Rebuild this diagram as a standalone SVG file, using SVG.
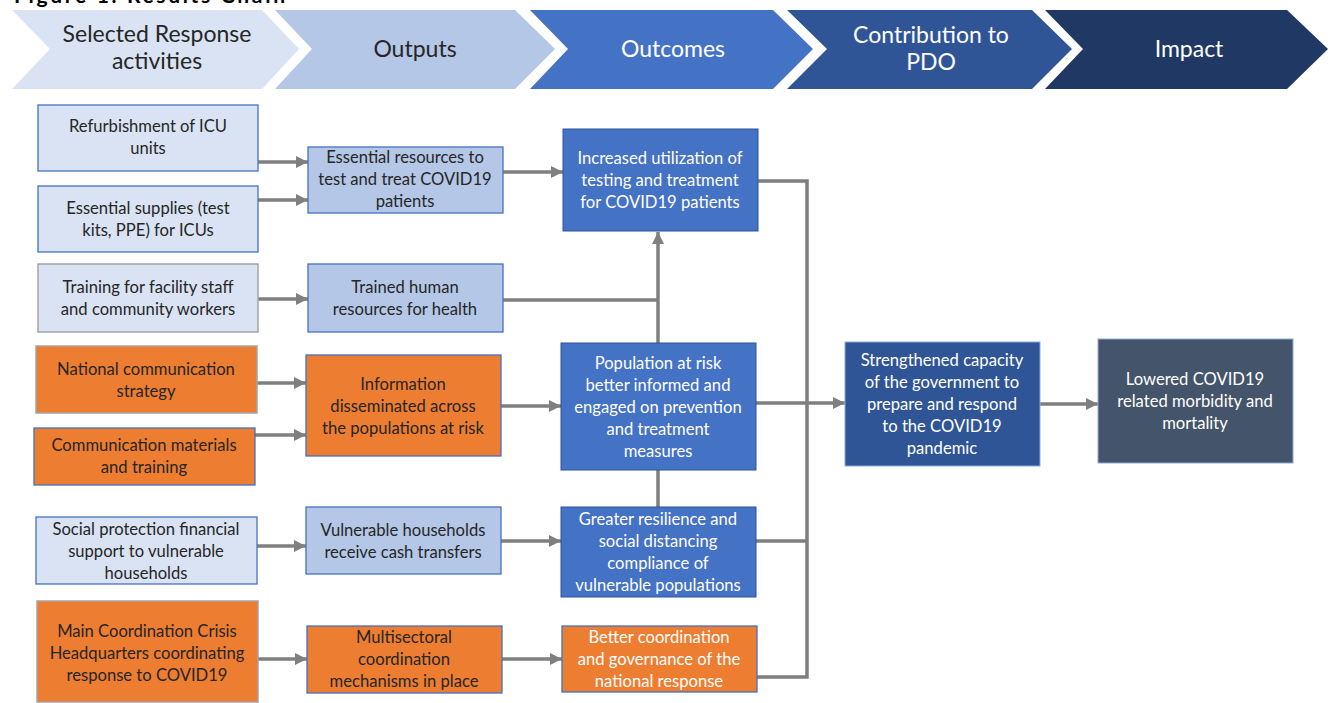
<svg xmlns="http://www.w3.org/2000/svg" width="1334" height="703" viewBox="0 0 1334 703">
<style>
.t{font-family:Lato,"Open Sans","Liberation Sans",sans-serif;font-size:16.6px;text-anchor:middle;fill:#262626}
.h{font-family:Lato,"Open Sans","Liberation Sans",sans-serif;font-size:23px;text-anchor:middle;fill:#262626}
.w{fill:#ffffff}
.c{fill:none;stroke:#7f7f7f;stroke-width:3.5}
.lb{fill:#dae3f3;stroke:#4472c4;stroke-width:1.3}
.lg{fill:#dae3f3;stroke:#a5a5a5;stroke-width:1.5}
.mb{fill:#b4c7e7;stroke:#4472c4;stroke-width:1.3}
.ob{fill:#ed7d31;stroke:#4472c4;stroke-width:1.3}
.og{fill:#ed7d31;stroke:#a5a5a5;stroke-width:1.5}
.db{fill:#4472c4;stroke:#2f5597;stroke-width:1}
</style>
<defs>
<marker id="ah" markerUnits="userSpaceOnUse" markerWidth="13" markerHeight="12" refX="12" refY="6" orient="auto">
<path d="M0,0 L12,6 L0,12 Z" fill="#7f7f7f"/>
</marker>
</defs>
<rect width="1334" height="703" fill="#ffffff"/>
<text x="14" y="3" font-family="Lato,'Liberation Sans',sans-serif" font-weight="bold" font-size="21" fill="#000" textLength="271">Figure 1. Results Chain</text>

<g id="header">
<polygon points="12,10 262,10 299,49 262,89 12,89 50,49" fill="#dae3f3"/>
<polygon points="275,10 515,10 555,49 515,89 275,89 312,49" fill="#b4c7e7"/>
<polygon points="530,10 773,10 813,49 773,89 530,89 568,49" fill="#4472c4"/>
<polygon points="787,10 1032,10 1072,49 1032,89 787,89 827,49" fill="#2f5597"/>
<polygon points="1045,10 1287,10 1328,49 1287,89 1045,89 1083,49" fill="#203864"/>
<text class="h" x="157" y="42">Selected Response</text>
<text class="h" x="157" y="69">activities</text>
<text class="h" x="415" y="57">Outputs</text>
<text class="h w" x="673" y="57">Outcomes</text>
<text class="h w" x="931" y="43">Contribution to</text>
<text class="h w" x="931" y="70">PDO</text>
<text class="h w" x="1189" y="57">Impact</text>
</g>

<g id="connectors">
<line class="c" x1="258" y1="162" x2="308" y2="162" marker-end="url(#ah)"/>
<line class="c" x1="258" y1="200" x2="308" y2="200" marker-end="url(#ah)"/>
<line class="c" x1="258" y1="299" x2="308" y2="299" marker-end="url(#ah)"/>
<line class="c" x1="257" y1="383" x2="306" y2="383" marker-end="url(#ah)"/>
<line class="c" x1="255" y1="435" x2="306" y2="435" marker-end="url(#ah)"/>
<line class="c" x1="257" y1="546" x2="306" y2="546" marker-end="url(#ah)"/>
<line class="c" x1="258" y1="659" x2="307" y2="659" marker-end="url(#ah)"/>
<line class="c" x1="503" y1="172" x2="563" y2="172" marker-end="url(#ah)"/>
<polyline class="c" points="503,300 658,300"/>
<line class="c" x1="658" y1="343" x2="658" y2="232" marker-end="url(#ah)"/>
<line class="c" x1="658" y1="470" x2="658" y2="507"/>
<line class="c" x1="501" y1="406" x2="561" y2="406" marker-end="url(#ah)"/>
<line class="c" x1="501" y1="541" x2="561" y2="541" marker-end="url(#ah)"/>
<line class="c" x1="502" y1="659" x2="562" y2="659" marker-end="url(#ah)"/>
<polyline class="c" points="758,181 807,181 807,677 757,677"/>
<line class="c" x1="756" y1="541" x2="807" y2="541"/>
<line class="c" x1="756" y1="403" x2="845" y2="403" marker-end="url(#ah)"/>
<line class="c" x1="1040" y1="404" x2="1098" y2="404" marker-end="url(#ah)"/>
</g>

<g id="a1"><rect class="lb" x="38" y="105" width="220" height="66"/>
<text class="t" x="148" y="132">Refurbishment of ICU</text><text class="t" x="148" y="154">units</text></g>
<g id="a2"><rect class="lb" x="38" y="186" width="220" height="66"/>
<text class="t" x="148" y="214">Essential supplies (test</text><text class="t" x="148" y="236">kits, PPE) for ICUs</text></g>
<g id="a3"><rect class="lg" x="38" y="264" width="220" height="68"/>
<text class="t" x="148" y="293">Training for facility staff</text><text class="t" x="148" y="315">and community workers</text></g>
<g id="a4"><rect class="og" x="36" y="346" width="221" height="67"/>
<text class="t" x="146" y="375">National communication</text><text class="t" x="146" y="397">strategy</text></g>
<g id="a5"><rect class="ob" x="34" y="428" width="221" height="57"/>
<text class="t" x="144" y="451">Communication materials</text><text class="t" x="144" y="473">and training</text></g>
<g id="a6"><rect class="lb" x="36" y="517" width="221" height="67"/>
<text class="t" x="146" y="535">Social protection financial</text><text class="t" x="146" y="557">support to vulnerable</text><text class="t" x="146" y="579">households</text></g>
<g id="a7"><rect class="og" x="37" y="601" width="221" height="101"/>
<text class="t" x="147" y="637">Main Coordination Crisis</text><text class="t" x="147" y="659">Headquarters coordinating</text><text class="t" x="147" y="681">response to COVID19</text></g>

<g id="o1"><rect class="mb" x="308" y="147" width="195" height="66"/>
<text class="t" x="405" y="163">Essential resources to</text><text class="t" x="405" y="185">test and treat COVID19</text><text class="t" x="405" y="207">patients</text></g>
<g id="o2"><rect class="mb" x="308" y="264" width="195" height="68"/>
<text class="t" x="405" y="293">Trained human</text><text class="t" x="405" y="315">resources for health</text></g>
<g id="o3"><rect class="ob" x="306" y="355" width="195" height="101"/>
<text class="t" x="403" y="390">Information</text><text class="t" x="403" y="412">disseminated across</text><text class="t" x="403" y="434">the populations at risk</text></g>
<g id="o4"><rect class="mb" x="306" y="507" width="195" height="67"/>
<text class="t" x="403" y="536">Vulnerable households</text><text class="t" x="403" y="558">receive cash transfers</text></g>
<g id="o5"><rect class="ob" x="307" y="626" width="195" height="67"/>
<text class="t" x="404" y="643">Multisectoral</text><text class="t" x="404" y="665">coordination</text><text class="t" x="404" y="687">mechanisms in place</text></g>

<g id="c1"><rect class="db" x="563" y="129" width="195" height="102"/>
<text class="t w" x="660" y="164">Increased utilization of</text><text class="t w" x="660" y="186">testing and treatment</text><text class="t w" x="660" y="208">for COVID19 patients</text></g>
<g id="c2"><rect class="db" x="561" y="343" width="195" height="127"/>
<text class="t w" x="658" y="369">Population at risk</text><text class="t w" x="658" y="391">better informed and</text><text class="t w" x="658" y="413">engaged on prevention</text><text class="t w" x="658" y="435">and treatment</text><text class="t w" x="658" y="457">measures</text></g>
<g id="c3"><rect class="db" x="561" y="507" width="195" height="90"/>
<text class="t w" x="658" y="525">Greater resilience and</text><text class="t w" x="658" y="547">social distancing</text><text class="t w" x="658" y="569">compliance of</text><text class="t w" x="658" y="591">vulnerable populations</text></g>
<g id="c4"><rect class="ob" x="562" y="626" width="195" height="66"/>
<text class="t w" x="659" y="643">Better coordination</text><text class="t w" x="659" y="665">and governance of the</text><text class="t w" x="659" y="687">national response</text></g>

<g id="pdo"><rect x="845" y="342" width="195" height="124" fill="#2f5597" stroke="#8faadc" stroke-width="1"/>
<text class="t w" x="942" y="366">Strengthened capacity</text><text class="t w" x="942" y="388">of the government to</text><text class="t w" x="942" y="410">prepare and respond</text><text class="t w" x="942" y="432">to the COVID19</text><text class="t w" x="942" y="454">pandemic</text></g>
<g id="impact"><rect x="1098" y="339" width="195" height="124" fill="#44546a" stroke="#8faadc" stroke-width="1"/>
<text class="t w" x="1195" y="385">Lowered COVID19</text><text class="t w" x="1195" y="407">related morbidity and</text><text class="t w" x="1195" y="429">mortality</text></g>
</svg>
